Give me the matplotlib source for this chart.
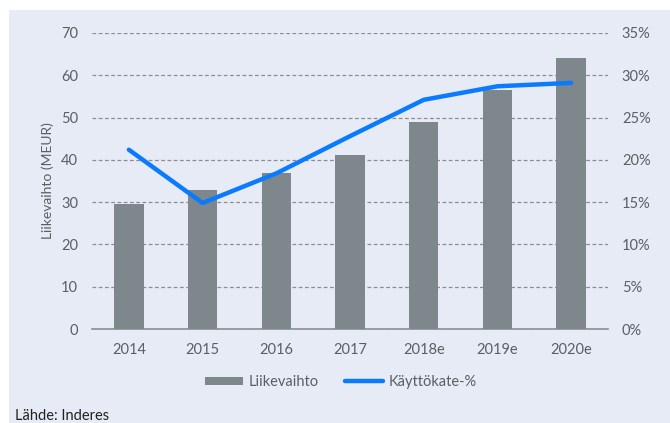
""" revenue bars + EBITDA margin line """
import matplotlib
matplotlib.use('Agg')
import matplotlib.pyplot as plt
from matplotlib.patches import Rectangle
from matplotlib.ticker import FuncFormatter

plt.rcParams['font.family'] = ['Lato', 'DejaVu Sans']

years = ['2014', '2015', '2016', '2017', '2018e', '2019e', '2020e']
liikevaihto = [29.5, 32.9, 36.8, 41.2, 48.9, 56.5, 64.1]
kayttokate_pct = [21.2, 14.9, 18.4, 22.8, 27.1, 28.7, 29.1]

BG = '#e6ebf5'
TXT = '#5a5f66'
W, H = 670, 423

fig = plt.figure(figsize=(W / 100, H / 100), dpi=100, facecolor='white')
# light panel behind everything
fig.patches.append(Rectangle((9 / W, 0), 1 - 9 / W, 1 - 10 / H, transform=fig.transFigure,
                             facecolor=BG, edgecolor='none', zorder=-10))

ax = fig.add_axes([92 / W, 1 - 329 / H, (608 - 92) / W, (329 - 33) / H])
ax.set_facecolor('none')
ax2 = ax.twinx()

x = range(len(years))
bars = ax.bar(x, liikevaihto, width=0.4, color='#7e878c', zorder=3, label='Liikevaihto')
line, = ax2.plot(x, kayttokate_pct, color='#0a7bff', lw=3.2, solid_capstyle='round',
                 zorder=4, label='Käyttökate-%')

ax.set_xlim(-0.5, len(years) - 0.5)
ax.set_ylim(0, 70)
ax2.set_ylim(0, 35)
ax.set_yticks(range(0, 71, 10))
ax2.set_yticks(range(0, 36, 5))
ax2.yaxis.set_major_formatter(FuncFormatter(lambda v, _: f'{v:.0f}%'))
ax.set_xticks(list(x))
ax.set_xticklabels(years)

ax.grid(axis='y', color='#8a8e94', linestyle=(0, (3, 2)), lw=0.9, zorder=1)
ax.set_axisbelow(True)
ax.set_ylabel('Liikevaihto (MEUR)', color=TXT, fontsize=10, labelpad=5)

for a in (ax, ax2):
    for s in a.spines.values():
        s.set_visible(False)
    a.tick_params(length=0, colors=TXT, labelsize=10.5)
ax.spines['bottom'].set_visible(True)
ax.spines['bottom'].set_color('#8a8e94')
ax.spines['bottom'].set_linewidth(1.2)
ax.tick_params(axis='x', pad=10)
ax.tick_params(axis='y', pad=10)
ax2.tick_params(axis='y', pad=10)

fig.legend(handles=[bars, line], loc='center', bbox_to_anchor=(341 / W, 1 - 382 / H), ncol=2,
           frameon=False, fontsize=10.5, labelcolor=TXT, handlelength=2.6, handleheight=0.5,
           columnspacing=1.8, handletextpad=0.4)

fig.text(15 / W, 1 - 420 / H, 'Lähde: Inderes', fontsize=10.5, color='#222222', va='baseline')

fig.savefig('out.png', dpi=100, facecolor='white')
